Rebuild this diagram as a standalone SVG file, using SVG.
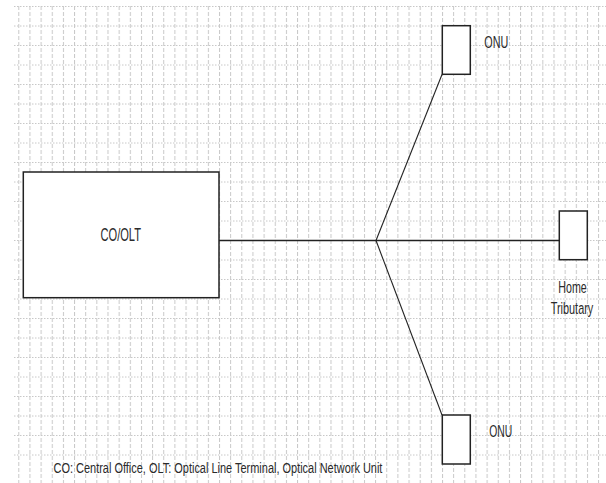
<svg xmlns="http://www.w3.org/2000/svg" width="606" height="483" viewBox="0 0 606 483">
<defs>
<style>
.gv{stroke:#c8c8c8;stroke-width:1;stroke-dasharray:4,2;fill:none}
.gh{stroke:#c8c8c8;stroke-width:1;stroke-dasharray:1.5,1.5;fill:none}
.box{fill:#ffffff;stroke:#222222;stroke-width:1.5}
.wire{stroke:#222222;fill:none}
.lbl{font-family:"Liberation Sans",Arial,sans-serif;fill:#2a2a2a}
</style>
<pattern id="gridV" x="18.3" y="0" width="11.15" height="483" patternUnits="userSpaceOnUse">
<line class="gv" x1="0.5" y1="6" x2="0.5" y2="483"/>
</pattern>
</defs>
<rect width="606" height="483" fill="#ffffff"/>
<g id="grid">
<rect x="14" y="6" width="592" height="477" fill="url(#gridV)"/>
<path class="gh" d="M14 6.5H606M14 26H606M14 45.5H606M14 65H606M14 84.5H606M14 104H606M14 123.5H606M14 143H606M14 162.5H606M14 182H606M14 201.5H606M14 221H606M14 240.5H606M14 260H606M14 279.5H606M14 299H606M14 318.5H606M14 338H606M14 357.5H606M14 377H606M14 396.5H606M14 416H606M14 435.5H606M14 455H606"/>
</g>
<g id="connectors">
<line class="wire" x1="219" y1="240.5" x2="559" y2="240.5" stroke-width="1.6"/>
<line class="wire" x1="376" y1="240.5" x2="442" y2="74.5" stroke-width="1.1"/>
<line class="wire" x1="376" y1="240.5" x2="442" y2="415" stroke-width="1.1"/>
</g>
<g id="co-olt">
<rect class="box" x="23.3" y="172" width="195.7" height="125.7"/>
<text class="lbl" transform="translate(100.5 240.5) scale(0.65 1)" x="0" y="0" font-size="19" textLength="62.3" lengthAdjust="spacingAndGlyphs">CO/OLT</text>
</g>
<g id="onu-top">
<rect class="box" x="442.3" y="25.7" width="28" height="48.6"/>
<text class="lbl" transform="translate(484.3 47.5) scale(0.65 1)" x="0" y="0" font-size="17" textLength="36.9" lengthAdjust="spacingAndGlyphs">ONU</text>
</g>
<g id="home-tributary">
<rect class="box" x="559.3" y="211" width="28" height="48.7"/>
<text class="lbl" transform="translate(558.3 292.7) scale(0.65 1)" x="0" y="0" font-size="17" textLength="43.7" lengthAdjust="spacingAndGlyphs">Home</text>
<text class="lbl" transform="translate(550.7 313.7) scale(0.65 1)" x="0" y="0" font-size="17" textLength="65.5" lengthAdjust="spacingAndGlyphs">Tributary</text>
</g>
<g id="onu-bottom">
<rect class="box" x="442.3" y="415" width="28" height="49"/>
<text class="lbl" transform="translate(489.3 436.8) scale(0.65 1)" x="0" y="0" font-size="17" textLength="35.4" lengthAdjust="spacingAndGlyphs">ONU</text>
</g>
<g id="caption">
<text class="lbl" transform="translate(53.5 472.5) scale(0.65 1)" x="0" y="0" font-size="15" textLength="506" lengthAdjust="spacingAndGlyphs">CO: Central Office, OLT: Optical Line Terminal, Optical Network Unit</text>
</g>
</svg>
